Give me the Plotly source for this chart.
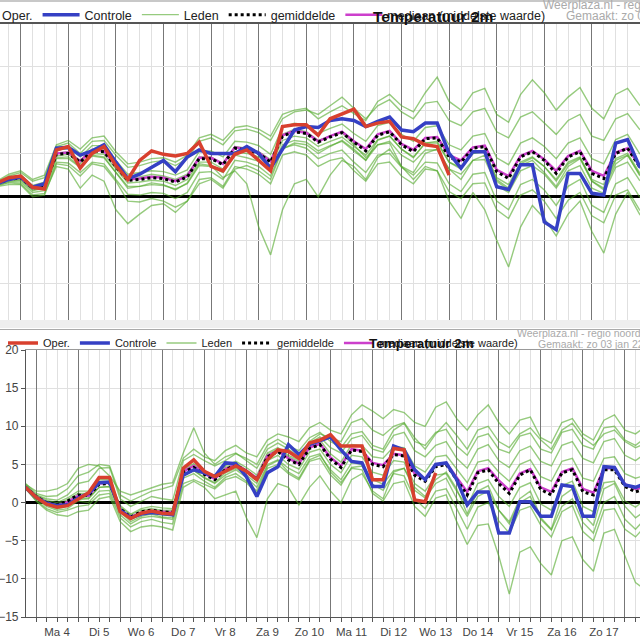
import pandas as pd
import plotly.graph_objects as go

# ---------------- top chart (earlier run), 6-hourly from zo 3 jan 12:00
top_start = "2021-01-03 12:00"
top_oper = [1.6, 2.2, 2.4, 1.1, 0.9, 5.4, 5.8, 3.3, 5.0, 5.8, 3.6, 2.0, 4.2, 5.3, 4.9, 4.7, 5.0, 6.3, 3.5, 3.0,
            4.9, 5.4, 4.2, 3.0, 8.1, 8.3, 8.3, 7.1, 9.0, 9.6, 10.1, 8.1, 8.5, 8.7, 6.9, 6.7, 6.0, 5.8, 2.5]
top_controle = [1.5, 2.0, 2.3, 1.1, 1.5, 5.6, 5.7, 4.8, 5.3, 6.0, 4.0, 2.1, 2.6, 3.4, 4.2, 2.9, 4.6, 5.4, 5.0, 5.0,
                5.0, 5.8, 5.0, 3.3, 5.5, 7.7, 8.1, 8.0, 8.8, 9.0, 8.8, 8.1, 8.7, 9.2, 7.7, 7.5, 8.5, 8.5, 5.0, 3.3,
                5.2, 5.2, 1.15, 0.85, 3.7, 3.7, -2.9, -3.8, 2.7, 2.7, 0.4, 0.2, 6.2, 6.6, 3.5, 2.8]
top_gemiddelde = [1.5, 2.0, 2.2, 1.0, 1.3, 4.9, 5.0, 4.0, 5.3, 5.2, 3.5, 1.9, 2.0, 2.2, 2.1, 1.7, 2.3, 4.4, 4.4, 3.7,
                  5.6, 5.4, 5.0, 4.0, 7.0, 7.5, 7.3, 6.3, 6.9, 7.4, 6.3, 5.3, 7.1, 7.5, 6.0, 5.2, 6.7, 6.8, 4.6, 4.0,
                  5.6, 5.8, 2.9, 2.1, 4.6, 5.2, 4.2, 2.7, 4.6, 5.2, 2.7, 2.1, 5.0, 5.6, 3.5, 2.8]
top_mediaan = [1.5, 2.0, 2.2, 1.0, 1.3, 5.0, 5.1, 4.1, 5.4, 5.3, 3.6, 2.0, 2.1, 2.3, 2.2, 1.8, 2.4, 4.5, 4.5, 3.8,
               5.7, 5.5, 5.1, 4.1, 7.1, 7.6, 7.4, 6.4, 7.0, 7.5, 6.4, 5.5, 7.2, 7.6, 6.1, 5.4, 6.8, 6.9, 4.8, 4.2,
               5.7, 5.9, 3.1, 2.4, 4.7, 5.3, 4.3, 3.0, 4.7, 5.3, 3.0, 2.4, 5.1, 5.6, 3.6, 3.0]
top_lid_1 = [1.8, 2.6, 3.0, 2.0, 2.5, 6.0, 6.5, 5.5, 6.8, 7.0, 5.2, 3.8, 4.0, 4.4, 4.5, 4.0, 4.8, 6.8, 7.2, 6.5,
             8.0, 8.2, 7.8, 7.0, 9.5, 10.0, 10.2, 9.0, 9.8, 10.5, 9.6, 8.8, 11.0, 11.8, 10.5, 9.8, 12.0, 13.8, 11.0, 10.0,
             12.0, 12.5, 9.5, 8.6, 11.8, 13.5, 12.0, 10.0, 11.5, 12.6, 10.2, 9.0, 11.8, 12.5, 10.6, 9.8]
top_lid_2 = [1.2, 1.4, 1.4, 0.0, 0.2, 3.8, 3.6, 2.4, 3.8, 3.5, 1.8, -0.5, -0.6, -0.2, -0.5, -1.2, -0.5, 2.0, 2.2, 1.2,
             3.5, 3.2, 2.6, 1.5, 4.8, 5.2, 4.8, 3.5, 4.2, 4.5, 3.0, 1.8, 3.8, 4.0, 2.4, 1.5, 3.2, 3.0, 0.6, -0.2,
             1.5, 1.6, -1.5, -2.5, 0.2, 0.8, -0.5, -2.5, -0.4, 0.5, -2.2, -3.0, 0.2, 0.8, -1.5, -2.4]
top_lid_3 = [1.5, 1.9, 2.0, 0.8, 1.0, 4.5, 4.6, 3.5, 4.8, 4.6, 2.8, 1.0, 1.2, 1.6, 1.4, 0.8, 1.6, 3.8, 3.6, 2.2,
             3.0, 1.5, -3.5, -6.7, -1.5, 1.5, 2.0, 0.0, 2.5, 4.2, 3.5, 2.0, 4.5, 5.5, 3.5, 2.8, 5.0, 5.5, 3.2, 2.0,
             4.2, 4.8, 1.8, 0.8, 3.6, 4.2, 2.8, 1.2, 3.5, 4.4, 1.8, 0.8, 3.8, 4.8, 2.6, 1.8]
top_lid_4 = [1.6, 2.1, 2.4, 1.2, 1.5, 5.0, 5.2, 4.2, 5.5, 5.4, 3.8, 2.2, 2.3, 2.6, 2.4, 2.0, 2.6, 4.6, 4.6, 3.8,
             5.8, 5.6, 5.2, 4.3, 7.2, 7.8, 7.5, 6.5, 7.0, 7.4, 6.0, 4.5, 6.0, 6.2, 3.5, 2.0, 3.5, 3.0, -0.5, -2.5,
             0.5, -1.5, -5.0, -8.1, -3.5, -1.0, -2.5, -4.5, -2.0, -0.5, -4.0, -6.5, -2.0, 0.5, -2.0, -3.5]
top_lid_5 = [1.3, 1.6, 1.5, 0.2, 0.4, 3.5, 3.2, 1.0, 2.5, 1.8, -1.5, -3.1, -2.0, -1.0, -0.8, -1.8, -0.5, 1.5, 2.0, 1.0,
             3.2, 3.6, 3.0, 2.0, 5.5, 6.2, 6.0, 5.0, 5.8, 6.5, 5.5, 4.2, 6.5, 7.0, 5.5, 4.5, 6.2, 6.4, 4.0, 3.2,
             5.0, 5.4, 2.0, 1.0, 3.8, 4.5, 3.5, 1.8, 3.8, 4.5, 1.8, 1.0, 4.2, 4.8, 2.5, 1.8]
top_lid_6 = [1.6, 2.2, 2.5, 1.3, 1.7, 5.4, 5.6, 4.6, 5.9, 5.9, 4.2, 2.6, 2.8, 3.0, 2.9, 2.5, 3.1, 5.2, 5.3, 4.6,
             6.4, 6.3, 5.9, 4.9, 8.0, 8.5, 8.3, 7.3, 7.9, 8.4, 7.3, 6.4, 8.2, 8.6, 7.2, 6.4, 8.0, 8.2, 6.0, 5.4,
             7.0, 7.3, 4.5, 3.7, 6.2, 6.8, 5.8, 4.4, 6.2, 6.8, 4.4, 3.8, 6.6, 7.2, 5.0, 4.4]
top_lid_7 = [1.4, 1.8, 1.9, 0.7, 1.0, 4.4, 4.4, 3.4, 4.7, 4.5, 2.8, 1.2, 1.2, 1.4, 1.3, 0.9, 1.5, 3.6, 3.5, 2.8,
             4.8, 4.5, 4.1, 3.1, 6.0, 6.5, 6.3, 5.3, 5.9, 6.4, 5.3, 4.2, 6.0, 6.4, 4.8, 4.0, 5.4, 5.4, 3.2, 2.6,
             4.2, 4.3, 1.3, 0.5, 3.0, 3.6, 2.6, 1.0, 3.0, 3.6, 1.0, 0.4, 3.4, 4.0, 1.9, 1.2]
top_lid_8 = [1.7, 2.4, 2.8, 1.8, 2.2, 5.8, 6.2, 5.0, 6.4, 6.5, 4.8, 3.4, 3.6, 4.0, 4.2, 3.6, 4.4, 6.4, 6.8, 6.0,
             7.6, 7.8, 7.4, 6.5, 9.0, 9.8, 10.0, 9.5, 10.5, 11.5, 10.2, 9.0, 10.5, 11.2, 9.8, 9.0, 10.8, 11.0, 8.8, 8.2,
             9.8, 10.2, 7.5, 6.8, 9.2, 9.8, 8.5, 7.2, 8.8, 9.5, 7.0, 6.5, 9.0, 9.6, 7.8, 7.0]
top_lid_9 = [1.5, 2.0, 2.1, 0.9, 1.2, 4.7, 4.9, 3.8, 5.0, 4.9, 3.2, 1.6, 1.7, 1.9, 1.8, 1.3, 2.0, 4.0, 4.0, 3.2,
             5.2, 5.0, 4.6, 3.6, 6.5, 7.0, 6.8, 5.8, 6.4, 6.9, 5.8, 4.8, 6.6, 7.0, 5.5, 4.6, 6.2, 6.2, 4.0, 3.4,
             5.0, 5.2, 2.2, 1.4, 4.0, 4.6, 3.5, 2.0, 4.0, 4.6, 2.0, 1.4, 4.4, 5.0, 2.8, 2.1]
top_lid_10 = [1.3, 1.7, 1.7, 0.5, 0.7, 4.0, 3.9, 2.8, 4.0, 3.8, 2.0, 0.3, 0.2, 0.5, 0.4, -0.2, 0.5, 2.8, 2.9, 2.0,
              4.2, 4.0, 3.5, 2.4, 5.6, 6.0, 5.6, 4.4, 5.0, 5.4, 4.0, 2.8, 4.8, 5.0, 3.4, 2.5, 4.0, 3.9, 1.5, 0.6,
              2.6, 2.8, -0.5, -1.5, 1.4, 2.0, 0.8, -1.0, 1.2, 2.0, -1.0, -1.8, 1.5, 2.2, 0.0, -0.8]
top_leden = [top_lid_1, top_lid_2, top_lid_3, top_lid_4, top_lid_5,
             top_lid_6, top_lid_7, top_lid_8, top_lid_9, top_lid_10]

# ---------------- bottom chart, 6-hourly from zo 3 jan 18:00
bot_start = "2021-01-03 18:00"
bot_oper = [2.0, 0.7, -0.2, -0.6, -0.4, 0.4, 1.3, 3.3, 3.3, -1.2, -2.1, -1.4, -1.1, -1.4, -1.5, 4.5, 5.6, 4.1, 3.4, 4.1,
            4.8, 4.1, 3.0, 5.6, 6.9, 6.7, 5.8, 7.8, 8.2, 8.9, 7.4, 7.4, 7.4, 3.0, 3.0, 7.1, 6.9, 0.35, 0.1, 3.9]
bot_controle = [2.0, 0.7, -0.1, -0.4, -0.3, 0.6, 1.2, 2.6, 2.7, -1.0, -2.0, -1.5, -1.3, -1.5, -1.6, 3.6, 4.3, 3.9, 3.4, 5.2,
                5.1, 3.4, 0.8, 3.9, 4.7, 7.6, 6.3, 7.6, 8.1, 8.6, 6.9, 5.4, 5.2, 2.1, 2.1, 7.4, 6.9, 4.3, 3.0, 5.0,
                5.2, 3.0, -0.3, 1.4, 1.4, -4.0, -4.0, 0.1, 0.1, -1.8, -1.8, 2.3, 2.1, -1.8, -1.8, 4.7, 4.6, 2.3, 2.0, 2.5]
bot_gemiddelde = [2.0, 0.8, 0.0, -0.3, 0.2, 1.0, 0.9, 2.4, 2.5, -0.8, -1.9, -1.2, -1.0, -1.2, -1.3, 4.0, 4.6, 3.7, 3.0, 4.3,
                  4.9, 4.1, 3.0, 6.0, 6.7, 5.6, 5.0, 7.1, 7.6, 5.7, 4.6, 6.9, 6.7, 5.0, 4.7, 6.3, 6.1, 3.6, 2.8, 4.7,
                  5.0, 3.0, 1.0, 3.9, 4.3, 2.5, 1.2, 3.6, 4.3, 1.7, 1.0, 3.9, 4.3, 1.4, 1.0, 4.3, 4.3, 2.1, 1.4, 1.8]
bot_mediaan = [2.0, 0.8, 0.0, -0.4, 0.1, 0.9, 0.9, 2.5, 2.6, -0.9, -1.9, -1.3, -1.1, -1.2, -1.3, 4.1, 4.8, 3.8, 3.1, 4.4,
               5.0, 4.2, 3.2, 6.1, 6.8, 5.8, 5.1, 7.2, 7.7, 5.9, 4.8, 7.0, 6.8, 5.2, 4.9, 6.4, 6.2, 3.8, 3.1, 4.9,
               5.2, 3.3, 1.4, 4.1, 4.5, 2.9, 1.6, 3.8, 4.4, 2.0, 1.4, 4.0, 4.5, 1.8, 1.3, 4.5, 4.5, 2.4, 1.8, 2.0]
bot_lid_1 = [2.3, 1.0, 0.5, 0.3, 1.0, 2.5, 2.8, 4.5, 4.6, 0.5, -0.5, 0.2, 0.8, 0.5, 0.3, 5.5, 6.3, 5.5, 4.8, 5.5,
             6.4, 5.8, 5.0, 7.5, 8.3, 7.4, 6.8, 8.5, 9.2, 8.0, 7.2, 9.0, 9.3, 7.5, 7.0, 9.5, 10.4, 8.0, 7.5, 9.2,
             9.6, 7.4, 6.2, 8.6, 9.0, 7.0, 6.5, 8.7, 9.1, 7.0, 6.5, 9.2, 9.6, 7.5, 7.0, 9.8, 10.0, 8.2, 7.5, 8.6]
bot_lid_2 = [1.8, 0.3, -0.8, -1.3, -1.0, -0.5, -0.3, 1.0, 1.2, -2.0, -3.2, -2.5, -2.2, -2.6, -2.8, 2.5, 3.0, 2.4, 1.8, 3.0,
             3.4, 2.6, 1.2, 4.5, 5.0, 3.8, 3.0, 5.4, 5.8, 3.6, 2.3, 4.6, 4.8, 2.4, 1.6, 3.8, 3.5, 0.5, -0.8, 1.5,
             1.8, -0.8, -3.5, -0.6, 0.0, -2.4, -4.0, -1.0, -0.5, -3.0, -4.5, -1.2, -0.4, -3.8, -5.0, -1.0, -0.8, -3.5, -4.5, -3.0]
bot_lid_3 = [2.1, 0.6, -0.3, -0.8, -0.5, 0.4, 0.5, 2.0, 2.1, -1.2, -2.5, -1.8, -1.5, -1.9, -2.0, 3.5, 4.2, 3.2, 2.5, 3.6,
             4.3, 3.3, 2.0, 5.0, 5.6, 4.5, 3.8, 6.0, 6.4, 4.0, 2.6, 4.5, 4.3, 1.2, 0.2, 2.5, 2.8, -0.5, -1.8, 0.6,
             1.0, -2.5, -5.5, -3.0, -2.8, -7.0, -12.0, -6.5, -5.8, -8.0, -9.5, -5.0, -4.5, -7.5, -9.0, -4.0, -3.5, -7.0, -10.5, -11.5]
bot_lid_4 = [2.5, 1.2, 0.8, 0.9, 1.8, 3.5, 4.0, 5.0, 4.8, 1.0, 0.2, 0.8, 1.5, 1.8, 2.2, 5.8, 7.0, 6.0, 5.5, 6.8,
             7.5, 6.5, 6.0, 8.2, 9.0, 8.6, 8.0, 9.8, 10.5, 9.5, 9.0, 11.5, 12.8, 12.0, 11.0, 12.2, 11.8, 10.5, 10.0, 12.5,
             13.2, 11.0, 9.5, 11.5, 12.8, 10.5, 9.0, 10.8, 11.2, 8.5, 7.8, 10.5, 11.0, 9.0, 8.2, 10.8, 11.5, 9.5, 9.0, 10.0]
bot_lid_5 = [2.0, 0.7, -0.2, -0.6, -0.3, 0.6, 0.6, 2.0, 2.1, -1.1, -2.2, -1.5, -1.4, -1.6, -1.7, 3.6, 4.2, 3.3, 2.6, 3.9,
             4.5, 3.6, 2.5, 5.5, 6.2, 5.0, 4.4, 6.6, 7.0, 5.0, 3.9, 6.2, 6.0, 4.0, 3.6, 5.5, 5.3, 2.5, 1.5, 3.6,
             3.8, 1.5, -0.5, 2.5, 3.0, 0.8, -0.5, 2.0, 2.6, -0.2, -1.0, 2.2, 2.8, -0.5, -1.2, 2.6, 2.8, 0.2, -0.6, 0.5]
bot_lid_6 = [2.2, 1.0, 0.3, 0.0, 0.6, 1.5, 1.5, 3.0, 3.0, -0.4, -1.5, -0.8, -0.5, -0.7, -0.8, 4.4, 5.1, 4.1, 3.5, 4.8,
             5.4, 4.6, 3.6, 6.5, 7.2, 6.2, 5.6, 7.6, 8.2, 6.4, 5.3, 7.6, 7.5, 6.0, 5.8, 7.3, 7.2, 4.8, 4.0, 6.0,
             6.2, 4.4, 2.6, 5.3, 5.6, 4.0, 2.8, 5.0, 5.6, 3.4, 2.8, 5.4, 5.8, 3.2, 2.8, 5.8, 6.0, 3.8, 3.2, 3.6]
bot_lid_7 = [1.9, 0.2, -1.0, -1.6, -1.8, -1.2, -1.0, 0.5, 0.8, -2.5, -3.8, -3.2, -3.0, -3.2, -3.6, 2.0, 2.8, 2.0, 0.5, 1.0,
             1.5, -2.0, -4.6, 0.5, 2.5, 2.0, -0.3, 2.0, 3.5, 1.5, 0.0, 3.0, 3.8, 1.5, 0.5, 4.0, 4.5, 2.0, 0.8, 3.0,
             4.0, 1.8, -1.5, 1.5, 2.2, -1.0, -2.5, 0.5, 1.5, -2.0, -3.5, 0.8, 1.8, -1.5, -3.0, 1.8, 2.5, -0.5, -2.0, -1.0]
bot_lid_8 = [2.4, 1.5, 1.5, 1.8, 2.5, 4.5, 5.0, 4.8, 3.5, 1.5, 1.0, 1.5, 2.0, 2.4, 2.6, 6.5, 9.8, 6.5, 5.0, 6.0,
             6.5, 5.5, 4.5, 7.0, 7.8, 7.0, 6.0, 8.0, 9.0, 8.5, 8.0, 10.5, 11.0, 9.5, 8.8, 10.0, 10.5, 8.5, 7.0, 9.0,
             10.5, 8.8, 7.0, 9.5, 10.0, 8.0, 7.2, 9.0, 9.8, 8.2, 7.0, 9.5, 10.4, 8.5, 7.5, 9.0, 9.5, 8.0, 7.2, 7.8]
bot_lid_9 = [2.0, 0.5, -0.5, -1.0, -0.8, 0.2, 0.0, 1.5, 1.6, -1.6, -2.8, -2.0, -1.8, -2.0, -2.2, 3.2, 3.8, 2.8, 2.0, 3.3,
             3.8, 2.8, 1.5, 4.8, 5.5, 4.0, 3.2, 5.6, 6.2, 4.3, 3.0, 5.2, 5.0, 3.0, 2.4, 4.2, 4.5, 1.6, 0.6, 2.5,
             3.2, 0.5, -1.8, 0.8, 1.5, -1.0, -2.8, 0.0, 0.8, -2.2, -3.6, -0.5, 0.5, -2.6, -4.0, 0.0, 0.8, -2.2, -3.5, -2.0]
bot_lid_10 = [2.1, 0.9, 0.1, -0.2, 0.4, 1.2, 1.2, 2.6, 2.7, -0.6, -1.6, -1.0, -0.8, -1.0, -1.0, 4.2, 4.9, 3.9, 3.2, 4.6,
              5.2, 4.3, 3.3, 6.3, 7.0, 6.0, 5.4, 7.8, 8.6, 7.2, 6.5, 8.4, 8.8, 7.0, 6.6, 8.8, 9.2, 6.8, 6.0, 7.5,
              8.0, 5.8, 4.5, 7.0, 7.6, 5.5, 4.6, 6.8, 7.4, 5.4, 4.8, 7.5, 8.0, 5.8, 5.2, 8.0, 8.4, 6.2, 5.5, 6.5]
bot_leden = [bot_lid_1, bot_lid_2, bot_lid_3, bot_lid_4, bot_lid_5,
             bot_lid_6, bot_lid_7, bot_lid_8, bot_lid_9, bot_lid_10]

day_labels = ["Ma 4", "Di 5", "Wo 6", "Do 7", "Vr 8", "Za 9", "Zo 10",
              "Ma 11", "Di 12", "Wo 13", "Do 14", "Vr 15", "Za 16", "Zo 17"]

GREEN = "rgba(80,168,40,0.6)"
RED = "#d8402e"
BLUE = "#3540c4"
MAGENTA = "#cc3fcc"
SIX_H = 6 * 3600 * 1000
DAY = 24 * 3600 * 1000

jan4 = pd.Timestamp("2021-01-04")
# pixel geometry: left edge / day width
top_range = [jan4 - pd.Timedelta(days=20.7 / 47.6), jan4 + pd.Timedelta(days=619.3 / 47.6)]
bot_range = [jan4 - pd.Timedelta(days=10 / 42.07), jan4 + pd.Timedelta(days=604 / 42.07)]
noons = [jan4 + pd.Timedelta(hours=12 + 24 * k) for k in range(len(day_labels))]

fig = go.Figure()


def add_run(start, leden, mediaan, gemiddelde, controle, oper, xa, ya, leg):
    t = pd.date_range(start, periods=80, freq="6h")
    for k, m in enumerate(leden):
        fig.add_trace(go.Scatter(x=t[:len(m)], y=m, mode="lines", name="Leden",
                                 line=dict(color=GREEN, width=1.4), legendgroup=leg + "l",
                                 showlegend=(k == 0), legendrank=3, xaxis=xa, yaxis=ya, legend=leg))
    fig.add_trace(go.Scatter(x=t[:len(mediaan)], y=mediaan, mode="lines", name="mediaan (middelste waarde)",
                             line=dict(color=MAGENTA, width=2.5), legendrank=5, xaxis=xa, yaxis=ya, legend=leg))
    fig.add_trace(go.Scatter(x=t[:len(gemiddelde)], y=gemiddelde, mode="lines", name="gemiddelde",
                             line=dict(color="black", width=3, dash="dot"), legendrank=4,
                             xaxis=xa, yaxis=ya, legend=leg))
    fig.add_trace(go.Scatter(x=t[:len(controle)], y=controle, mode="lines", name="Controle",
                             line=dict(color=BLUE, width=3.5), legendrank=2, xaxis=xa, yaxis=ya, legend=leg))
    fig.add_trace(go.Scatter(x=t[:len(oper)], y=oper, mode="lines", name="Oper.",
                             line=dict(color=RED, width=3.5), legendrank=1, xaxis=xa, yaxis=ya, legend=leg))


add_run(top_start, top_leden, top_mediaan, top_gemiddelde, top_controle, top_oper, "x", "y", "legend")
add_run(bot_start, bot_leden, bot_mediaan, bot_gemiddelde, bot_controle, bot_oper, "x2", "y2", "legend2")
# carrier for the midnight lines of the lower chart
fig.add_trace(go.Scatter(x=[bot_start], y=[None], xaxis="x3", yaxis="y2", showlegend=False, hoverinfo="skip"))

TOP, BOT = 24, 617          # plot area in px (margin t=24, b=23)
H = float(BOT - TOP)


def py(p):
    # picture pixel row -> paper y
    return (BOT - p) / H


grid = "#e0e0e0"

fig.update_layout(
    template="none", width=640, height=640,
    margin=dict(l=0, r=0, t=TOP, b=640 - BOT, autoexpand=False),
    paper_bgcolor="white", plot_bgcolor="white",
    font=dict(family="Liberation Sans, Arial, sans-serif", color="#333"),
    xaxis=dict(domain=[0, 1], anchor="y", type="date", range=top_range, side="top",
               showline=True, linecolor="#555", linewidth=1.5, ticks="", showticklabels=False,
               tickmode="linear", tick0=jan4, dtick=DAY, showgrid=True, gridcolor="#777", gridwidth=1.3,
               minor=dict(tickmode="linear", tick0=jan4, dtick=SIX_H, showgrid=True, gridcolor=grid, ticks=""),
               zeroline=False, automargin=False),
    yaxis=dict(domain=[py(320), 1], anchor="x", range=[-14.21, 19.93],
               tick0=0, dtick=5, showticklabels=False, ticks="", showgrid=True, gridcolor=grid,
               zeroline=True, zerolinecolor="black", zerolinewidth=2.5, showline=False, automargin=False),
    xaxis2=dict(domain=[26 / 640, 1], anchor="y2", type="date", range=bot_range,
                tickmode="array", tickvals=noons, ticktext=day_labels, ticks="outside", ticklen=4,
                tickcolor="#555", showgrid=False, showline=True, linecolor="#555", linewidth=1.2,
                tickfont=dict(size=11.5, color="#444"),
                minor=dict(tickmode="linear", tick0=jan4, dtick=SIX_H, ticks="outside", ticklen=4,
                           tickcolor="#555", showgrid=True, gridcolor=grid),
                zeroline=False, automargin=False),
    yaxis2=dict(domain=[0, py(350)], anchor="x2", range=[-15, 20], tick0=0, dtick=5,
                ticks="outside", ticklen=4, tickcolor="#555", showline=True, linecolor="#555", linewidth=1.2,
                showgrid=True, gridcolor=grid, zeroline=True, zerolinecolor="black", zerolinewidth=2.5,
                tickfont=dict(size=12, color="#444"), automargin=False),
    xaxis3=dict(overlaying="x2", anchor="y2", type="date", range=bot_range, side="top",
                tickmode="linear", tick0=jan4, dtick=DAY, showgrid=True, gridcolor="#777", gridwidth=1.3,
                showticklabels=False, ticks="", showline=True, linecolor="#999", zeroline=False,
                automargin=False),
    legend=dict(orientation="h", x=-45 / 640, xanchor="left", y=py(15), yanchor="middle",
                font=dict(size=12.5, color="#222"), bgcolor="rgba(0,0,0,0)", itemwidth=37,
                traceorder="normal"),
    legend2=dict(orientation="h", x=3 / 640, xanchor="left", y=py(343), yanchor="middle",
                 font=dict(size=11, color="#222"), bgcolor="rgba(0,0,0,0)", itemwidth=30,
                 traceorder="normal"),
    showlegend=True,
)

# frame pieces of the two screenshots
fig.add_shape(type="rect", xref="paper", yref="paper", x0=0, x1=1, y0=py(2), y1=py(0),
              fillcolor="#c8c8c8", line_width=0, layer="above")
fig.add_shape(type="rect", xref="paper", yref="paper", x0=0, x1=1, y0=py(328), y1=py(320),
              fillcolor="#eeeeee", line_width=0, layer="above")
fig.add_shape(type="line", xref="paper", yref="paper", x0=0, x1=1, y0=py(329.5), y1=py(329.5),
              line=dict(color="#aaaaaa", width=1), layer="above")

notes = [
    ("<b>Temperatuur 2m</b>", 433, 16, 15.5, "#111", "center"),
    ("Weerplaza.nl - regio noordoost", 541, 5, 12, "#aaaaaa", "left"),
    ("Gemaakt: zo 03 jan 10:00", 564, 16, 12, "#aaaaaa", "left"),
    ("<b>Temperatuur 2m</b>", 421, 343, 13.5, "#111", "center"),
    ("Weerplaza.nl - regio noordoost", 515, 333, 10.5, "#aaaaaa", "left"),
    ("Gemaakt: zo 03 jan 22:00", 536, 344, 10.5, "#aaaaaa", "left"),
    ("Weerplaza.nl - regio noordoost", 515, 645, 10.5, "#cccccc", "left"),
]
for txt, px, row, size, col, anc in notes:
    fig.add_annotation(text=txt, x=px / 640, y=py(row), xref="paper", yref="paper",
                       xanchor=anc, yanchor="middle", showarrow=False,
                       font=dict(size=size, color=col))

fig.write_html("out.html", config={"displayModeBar": False},
               post_script="document.body.style.margin='0px';")
